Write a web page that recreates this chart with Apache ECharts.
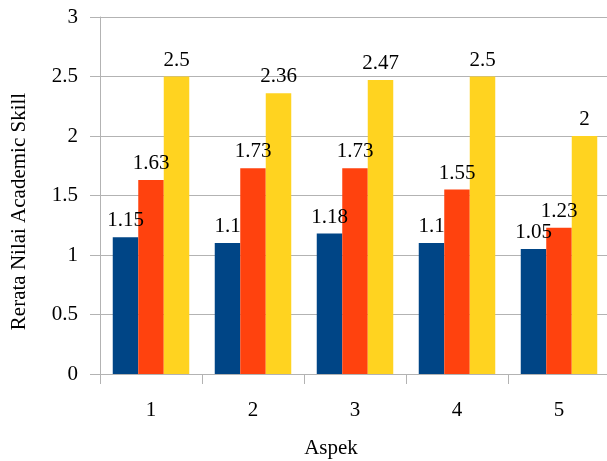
<!DOCTYPE html>
<html lang="en">
<head>
<meta charset="UTF-8">
<title>Rerata Nilai Academic Skill</title>
<script src="https://cdn.jsdelivr.net/npm/echarts@6/dist/echarts.min.js"></script>
<style>
  html, body { margin: 0; padding: 0; background: #fff; }
  #chart { width: 607px; height: 461px; }
</style>
</head>
<body>
<div id="chart"></div>
<script type="text/javascript">
    // data
    var aspek = ['1', '2', '3', '4', '5'];
    var seri1 = [1.15, 1.1, 1.18, 1.1, 1.05];
    var seri2 = [1.63, 1.73, 1.73, 1.55, 1.23];
    var seri3 = [2.5, 2.36, 2.47, 2.5, 2];
    var warna = ['#004586', '#ff420e', '#ffd320'];

    var font = '"Liberation Serif", "Times New Roman", serif';
    var myChart = echarts.init(document.getElementById('chart'));

    function bar(name, data, color) {
        return {
            name: name,
            type: 'bar',
            data: data,
            barGap: '0%',
            barCategoryGap: '25%',
            itemStyle: { color: color },
            label: {
                show: true,
                position: 'top',
                distance: 6,
                color: '#000',
                fontFamily: font,
                fontSize: 21
            }
        };
    }

    myChart.setOption({
        animation: false,
        grid: { left: 100, right: -3, top: 17, bottom: 87, outerBoundsMode: 'none' },
        xAxis: {
            type: 'category',
            data: aspek,
            name: 'Aspek',
            nameLocation: 'middle',
            nameGap: 64,
            nameTextStyle: { fontFamily: font, fontSize: 21, color: '#000', padding: [0, 48, 0, 0] },
            axisLine: { lineStyle: { color: '#b3b3b3' } },
            axisTick: { show: true, length: 10, lineStyle: { color: '#b3b3b3' } },
            axisLabel: { fontFamily: font, fontSize: 21, color: '#000', margin: 26 }
        },
        yAxis: {
            type: 'value',
            min: 0,
            max: 3,
            interval: 0.5,
            name: 'Rerata Nilai Academic Skill',
            nameLocation: 'middle',
            nameGap: 70,
            nameTextStyle: { fontFamily: font, fontSize: 21, color: '#000', padding: [0, 32, 0, 0] },
            axisLine: { show: true, lineStyle: { color: '#b3b3b3' } },
            axisTick: { show: true, length: 10, lineStyle: { color: '#b3b3b3' } },
            axisLabel: { fontFamily: font, fontSize: 21, color: '#000', margin: 22 },
            splitLine: { lineStyle: { color: '#b3b3b3' } }
        },
        series: [
            bar('Seri 1', seri1, warna[0]),
            bar('Seri 2', seri2, warna[1]),
            bar('Seri 3', seri3, warna[2])
        ]
    });
</script>
</body>
</html>
